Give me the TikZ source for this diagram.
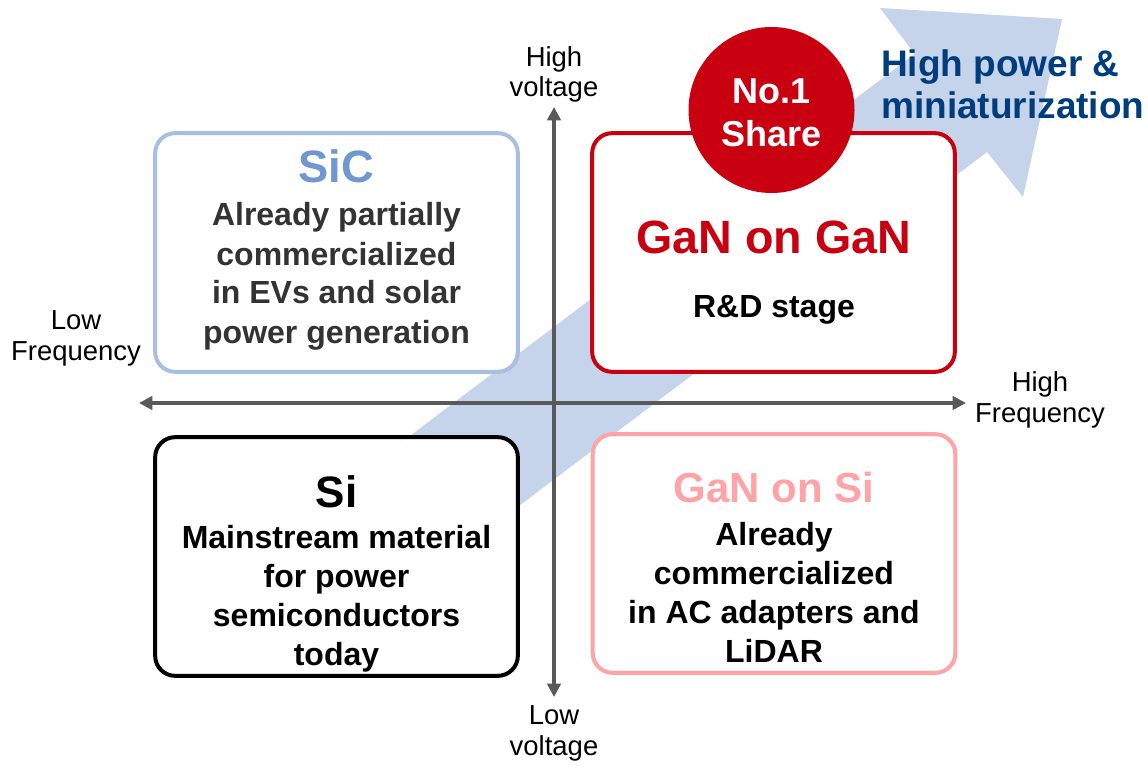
\documentclass[tikz,border=0pt]{standalone}
\usepackage{fontspec}
\setmainfont{Liberation Sans}
\usetikzlibrary{arrows.meta}

\definecolor{sicline}{HTML}{A8BFE2}
\definecolor{sictext}{HTML}{7097CF}
\definecolor{trendblue}{HTML}{C5D4EA}
\definecolor{ganred}{HTML}{C8000F}
\definecolor{sipink}{HTML}{FFA3A6}
\definecolor{axisgray}{HTML}{595959}
\definecolor{navy}{HTML}{003D7D}
\definecolor{bodygray}{HTML}{333333}

\tikzset{
    quadbox/.style={draw, fill=white, line width=3pt, rounded corners=15pt,
        minimum width=272pt, minimum height=179pt, inner sep=0pt},
    boxtitle/.style={font=\fontsize{33pt}{36pt}\selectfont\bfseries, anchor=base},
    boxtext/.style={font=\fontsize{24pt}{29.25pt}\selectfont\bfseries,
        align=center, anchor=base},
    axislabel/.style={font=\fontsize{20.6pt}{23pt}\selectfont,
        align=center, anchor=base},
    axisline/.style={axisgray, line width=3pt,
        {Triangle[length=10pt,width=10pt]}-{Triangle[length=10pt,width=10pt]}}
}

\begin{document}
\begin{tikzpicture}[x=0.75pt, y=-0.75pt]
\useasboundingbox (0,0) rectangle (1148,766);

% Trend arrow (behind everything)
\fill[trendblue] (357,476) -- (914.7,53.9) -- (880,8) -- (1062,19)
    -- (1023,197) -- (987,152) -- (429,574) -- cycle;

% Axes
\coordinate (left) at (139,403);
\coordinate (right) at (966,403);
\coordinate (top) at (554,107);
\coordinate (bottom) at (554,697);
\draw[axisline] (left) -- (right);
\draw[axisline] (bottom) -- (top);

% multi-line nodes: base = last line
\node[axislabel] (hvolt) at (554,97) {High\\voltage};
\node[axislabel] (lvolt) at (554,755) {Low\\voltage};
\node[axislabel] (lfreq) at (76,360) {Low\\Frequency};
\node[axislabel] (hfreq) at (1040,422) {High\\Frequency};

% Quadrants
\node[quadbox, draw=sicline] (sic) at (336.5,252.5) {};
\node[quadbox, draw=ganred] (gan) at (773.5,252.5) {};
\node[quadbox, draw=black] (si) at (336.5,556.5) {};
\node[quadbox, draw=sipink] (gansi) at (774,553.5) {};

% Share badge
\node[circle, fill=ganred, minimum size=124.5pt, inner sep=0pt] (badge) at (771.5,110) {};
\node[font=\fontsize{27pt}{32.25pt}\selectfont\bfseries, white, align=center,
    anchor=base] (badgetext) at (771.5,147) {No.1\\Share};

% Box texts
\node[boxtitle, font=\fontsize{34pt}{36pt}\selectfont\bfseries, sictext]
    (sictitle) at (336.5,183) {SiC};
\node[boxtext, bodygray] (sicbody) at (336.5,343)
    {Already partially\\commercialized\\in EVs and solar\\power generation};

\node[boxtitle, font=\fontsize{35pt}{36pt}\selectfont\bfseries, ganred]
    (gantitle) at (774,254) {GaN on GaN};
\node[boxtext] (ganbody) at (774,318) {R\&D stage};

\node[boxtitle] (sititle) at (336.5,507) {Si};
\node[boxtext] (sibody) at (336.5,665)
    {Mainstream material\\for power\\semiconductors\\today};

\node[boxtitle, font=\fontsize{31.5pt}{36pt}\selectfont\bfseries, sipink]
    (gansititle) at (774,502) {GaN on Si};
\node[boxtext] (gansibody) at (774,662)
    {Already\\commercialized\\in AC adapters and\\LiDAR};

% Trend label
\node[font=\fontsize{27.75pt}{31.5pt}\selectfont\bfseries, navy, align=left,
    anchor=base west, inner sep=0pt] (trend) at (881,119) {High power \&\\miniaturization};

\end{tikzpicture}
\end{document}
